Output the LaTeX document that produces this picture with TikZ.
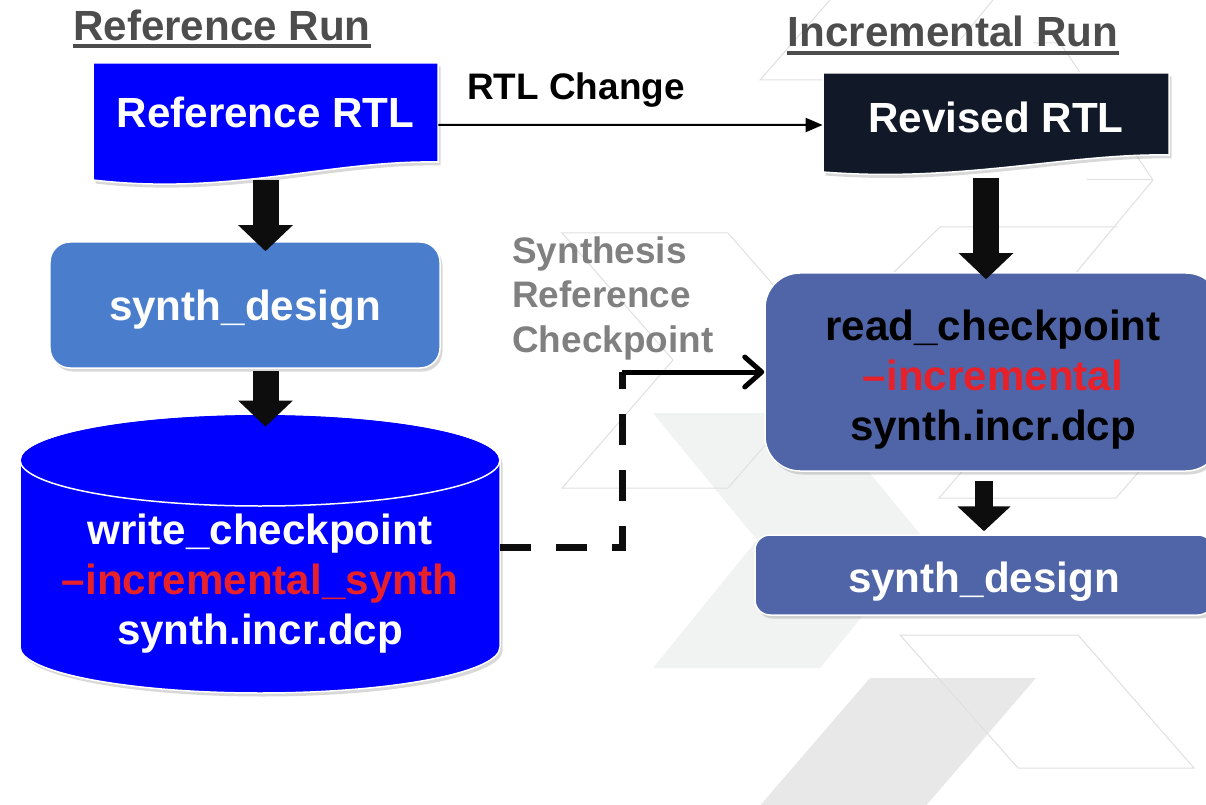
\documentclass[tikz,border=0pt]{standalone}
\usepackage{fontspec}
\setmainfont{Liberation Sans}
\usetikzlibrary{arrows.meta,shadows}
\definecolor{refblue}{HTML}{0000FF}
\definecolor{revnavy}{HTML}{111827}
\definecolor{synthblue}{HTML}{4A7ECD}
\definecolor{incrblue}{HTML}{5065A8}
\definecolor{optred}{HTML}{E8202A}
\definecolor{hdrgray}{HTML}{4D4D4D}
\definecolor{notegray}{HTML}{808080}
\definecolor{wmfill}{HTML}{F1F2F2}
\definecolor{wmdark}{HTML}{E8E8E8}
\definecolor{wmline}{HTML}{E0E0E0}

\begin{document}
\begin{tikzpicture}[x=0.2mm,y=-0.2mm,
    every node/.style={inner sep=0pt},
    bigtext/.style={font=\fontsize{24}{28.5}\selectfont\bfseries},
    boxshadow/.style={drop shadow={shadow xshift=0.5mm,shadow yshift=-0.7mm,opacity=0.3}},
    wm/.style={draw=wmline,line width=0.2mm},
    hdr/.style={bigtext,text=hdrgray},
    hdrline/.style={draw=hdrgray,line width=0.8mm},
    flowbox/.style={bigtext,rounded corners=4mm,draw=white,line width=0.3mm,boxshadow,minimum width=78mm,minimum height=25.2mm},
    fatarrow/.style={draw=black!95,line width=5.2mm,-{Triangle[width=10.6mm,length=5.2mm]}},
    thinarrow/.style={draw=black,line width=0.4mm,-{Triangle[length=3.4mm,width=2.8mm]}},
    dashlink/.style={draw=black!95,line width=1.4mm,dash pattern=on 6.2mm off 5mm},
    ckptarrow/.style={draw=black,line width=1mm,-{Straight Barb[length=3.4mm,width=6mm,round]}}]
    \useasboundingbox (0,0) rectangle (1206,805);
    \fill[white] (0,0) rectangle (1206,805);
    \fill[wmfill] (653,413) -- (820,413) -- (925,540) -- (820,668) -- (653,668) -- (757,540) -- cycle;
    \fill[wmdark] (870,678) -- (1036,678) -- (905,830) -- (739,830) -- cycle;
    \draw[wm] (562,233) -- (728,233) -- (839,360) -- (728,488) -- (562,488) -- (673,360) -- cycle;
    \draw[wm] (900,635) -- (1078,635) -- (1194,768) -- (1018,768) -- cycle;
    \draw[wm] (939,498) -- (1116,498) -- (1227,370) -- (1050,370) -- cycle;
    \draw[wm] (830,0) -- (760,80) -- (830,80);
    \draw[wm] (993,0) -- (960,40);
    \draw[wm] (1033,43) -- (1060,43) -- (1153,180) -- (1070,280);
    \draw[wm] (1087,180) -- (1153,180);
    \draw[wm] (893,273) -- (940,227) -- (1117,227);
    \node[hdr] (refhdr) at (222,25) {Reference Run};
    \draw[hdrline] ([yshift=-1.1mm]refhdr.base west) -- ([yshift=-1.1mm]refhdr.base east);
    \node[hdr] (inchdr) at (953,31) {Incremental Run};
    \draw[hdrline] ([yshift=-1.3mm]inchdr.base west) -- ([yshift=-1.3mm]inchdr.base east);
    \fill[refblue,draw=white,line width=0.3mm,boxshadow] (93,63) -- (438,63) -- (438,162)
        .. controls (330,160) and (230,196) .. (93,180) -- cycle;
    \node[bigtext,text=white,minimum width=69mm,minimum height=19.8mm] (refrtl) at (265.5,112.5) {Reference RTL};
    \fill[revnavy,draw=white,line width=0.3mm,boxshadow] (823,73) -- (1169,73) -- (1169,155)
        .. controls (1070,153) and (960,183) .. (823,172) -- cycle;
    \node[bigtext,text=white,minimum width=69.2mm,minimum height=17.6mm] (revrtl) at (996,117) {Revised RTL};
    \node[flowbox,fill=synthblue,text=white] (synth1) at (245,305) {\rule{0pt}{23pt}synth\_design};
    \fill[refblue,draw=white,line width=0.3mm,boxshadow] (20,460) -- (20,647)
        arc[start angle=180,end angle=360,x radius=48mm,y radius=9.2mm] -- (500,460)
        arc[start angle=0,end angle=180,x radius=48mm,y radius=9.2mm] -- cycle;
    \draw[white,line width=0.3mm] (260,460) ellipse[x radius=48mm,y radius=9.2mm];
    \node[minimum width=96mm,minimum height=55.8mm] (cyl) at (260,552.5) {};
    \node[bigtext,text=white,align=center] (cyltxt) at (260,584) {write\_checkpoint\\\textcolor{optred}{–incremental\_synth}\\synth.incr.dcp};
    \node[flowbox,fill=incrblue,text=black,align=center,rounded corners=7mm,minimum width=91.2mm,minimum height=39.6mm] (read) at (993,372) {\rule{0pt}{26.5pt}read\_checkpoint\\\textcolor{optred}{–incremental}\\synth.incr.dcp};
    \node[flowbox,fill=incrblue,text=white,rounded corners=3mm,minimum width=91.6mm,minimum height=16mm] (synth2) at (984,575) {\rule{0pt}{25.5pt}synth\_design};
    \draw[fatarrow] ([yshift=-3.6mm]refrtl.south) -- ([yshift=-2mm]refrtl.south |- synth1.north);
    \draw[fatarrow] ([yshift=-0.4mm]refrtl.south |- synth1.south) -- ([yshift=-2.8mm]refrtl.south |- cyl.north);
    \draw[fatarrow] ([xshift=-2mm,yshift=-3.4mm]revrtl.south) -- ([xshift=-2mm,yshift=-1.4mm]revrtl.south |- read.north);
    \draw[fatarrow,line width=3.6mm,-{Triangle[width=10.4mm,length=5mm]}] ([yshift=-1.8mm]synth2.north |- read.south) -- ([yshift=0.6mm]synth2.north);
    \draw[thinarrow] ([yshift=-2.5mm]refrtl.east) -- ([yshift=-1.6mm]revrtl.west);
    \node[font=\fontsize{21}{25}\selectfont\bfseries,anchor=base west] (chg) at (467,100) {RTL Change};
    \node[font=\fontsize{21}{25.3}\selectfont\bfseries,text=notegray,align=left,anchor=north west] (note) at (512,236) {Synthesis\\Reference\\Checkpoint};
    \coordinate (bend) at (622,372);
    \draw[dashlink] ([yshift=1mm]cyl.east) -| (bend);
    \draw[ckptarrow] (bend) -- (read.west);
\end{tikzpicture}
\end{document}
